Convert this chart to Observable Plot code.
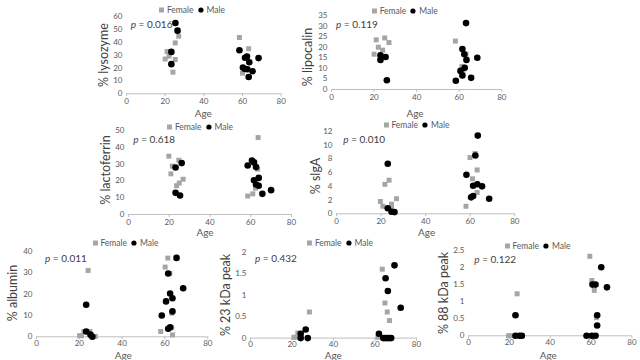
<!DOCTYPE html>
<html><head><meta charset="utf-8">
<script src="https://cdn.jsdelivr.net/npm/d3@7"></script>
<script src="https://cdn.jsdelivr.net/npm/@observablehq/plot@0.6"></script>
<style>
body{margin:0;background:#fff;}
#root{position:relative;width:640px;height:360px;overflow:hidden;font-family:Lato,"Open Sans",sans-serif;color:#404040;}
.c{position:absolute;white-space:nowrap;transform:translate(-50%,-50%);}
.l{position:absolute;white-space:nowrap;transform:translate(0,-50%);}
.leg{font-size:8.5px;color:#595959;display:flex;align-items:center;}
.leg svg{display:block;}
.pv{font-size:10px;color:#404040;}
.yl{font-size:12.5px;color:#404040;}
.ag{font-size:10px;color:#595959;}
</style></head><body><div id="root"></div>
<script>
// ---- data: [age, percent] ----
const panelLabels = ["% lysozyme","% lipocalin","% lactoferrin","% sIgA","% albumin","% 23 kDa peak","% 88 kDa peak"];
const pValues = ["0.016","0.119","0.618","0.010","0.011","0.432","0.122"];
const ageTicks = [0,20,40,60,80];
const yMax = [60,35,50,12,40,2,2.5];
const yStep = [10,5,10,2,10,0.5,0.5];

const lysozymeF = [[20,27],[21,32.8],[22,29.2],[25.2,26.6],[25.2,39.5],[27,44.7],[24,16.8],[58.4,43.7],[63.2,35],[60,16]];
const lysozymeM = [[25.3,55],[26.4,49],[23.2,32.5],[23.2,23],[58.4,33.8],[61.3,28],[62.3,29],[63.5,24.5],[68.3,27.7],[60.2,20.4],[61.2,19.3],[62.5,19],[65.2,17.5],[63.2,13]];
const lipocalinF = [[20,16.7],[21,23.5],[22,20],[24,18.6],[25,24.4],[27,22.2],[58.2,22.9],[61.3,10.9],[61.8,8.5],[63.2,16.7]];
const lipocalinM = [[23,16.2],[23,14],[25.4,15.4],[26,4.4],[63.2,31.4],[61.5,19.1],[62.4,16.7],[63.4,14],[68.5,15],[62.6,10.3],[60.6,8.8],[61.5,6.6],[58.4,4.1],[65.6,5.5]];
const lactoferrinF = [[19.8,34.7],[21.5,28.8],[20.8,24.2],[24.7,32.3],[23.6,17.1],[24.9,18.7],[26.8,21],[58.5,11],[61,12.3],[62.3,15.7],[63.4,27],[63.6,45.8]];
const lactoferrinM = [[23.1,28],[26.1,30.6],[23.1,12.9],[25.3,11.3],[58.5,29.2],[60.6,32.1],[61.6,31],[62.6,28.2],[61.6,20.4],[63.9,21.8],[62.6,17.9],[63.9,17.1],[70,14.5],[65.7,12.3]];
const sigaF = [[19.7,1.8],[20.8,1.1],[21.7,4.3],[23.6,4.9],[24.7,1.4],[24.7,1],[26.9,2.2],[58.1,1.1],[59.9,8.2],[61,5.1],[62.2,8.8],[63.1,6.4],[63.1,3.1]];
const sigaM = [[23,7.3],[23,0.8],[24.7,0.3],[26,0.25],[63.4,11.4],[62.3,8.5],[58.3,5.7],[61.3,4.1],[63.2,4.3],[65.3,4],[60.4,2.4],[61.3,2.6],[68.5,2.2]];
const albuminF = [[20.1,0.5],[21,0.5],[22.1,2.5],[24.1,31.1],[24.9,2.5],[25.2,0.9],[27.5,0.2],[58,2.5],[60.1,32.7],[61.3,36.9],[62.3,29.7],[63.2,11.1],[63.2,4.2],[63.5,0.9]];
const albuminM = [[23.2,15],[23.2,2.5],[25.2,1],[26.1,0],[65.4,37],[61.5,29.7],[68.5,22.8],[62.4,20.3],[63.5,18.1],[60.5,16.6],[63.5,11.9],[58.5,10],[61.5,3.75],[62.4,4.5]];
const kda23F = [[20.9,0.02],[22,0.02],[22.8,0.12],[23.6,0.02],[28.4,0.61],[61.4,0.02],[63.5,1.61],[64.8,0.82],[65.9,0.61],[67,0.41]];
const kda23M = [[24.2,0.1],[24.2,0],[26.6,0.2],[27.6,0],[61.9,0.1],[64,0],[65,0],[65.9,0],[66.8,0],[67.8,0],[65.1,1.4],[66.2,1.1],[69.4,1.7],[72.4,0.71]];
const kda88F = [[19.6,0],[20.7,0],[23.8,1.23],[25.8,0],[26.4,0],[59.4,2.33],[60.4,1.62],[61.6,1.33],[62.7,0.53],[59.9,0],[61.2,0]];
const kda88M = [[23,0.6],[23,0],[25,0],[26.1,0],[57.8,0],[60.4,0],[62.2,0],[60.7,1.5],[62.2,1.5],[65,2.01],[67.8,1.42],[63,0.6],[63,0.3]];

const femaleSets = [lysozymeF, lipocalinF, lactoferrinF, sigaF, albuminF, kda23F, kda88F];
const maleSets = [lysozymeM, lipocalinM, lactoferrinM, sigaM, albuminM, kda23M, kda88M];

// ---- layout (pixel positions of each panel) ----
const layout = [
  {x0:126, x1:280.7, yt:16, yb:93.3, leg:[192,10.3], p:[130.7,24], yl:[103,55], ag:[203.3,112.5], pad:2},
  {x0:331, x1:501.3, yt:15.3, yb:89.3, leg:[404.7,11], p:[336,24], yl:[306.7,57], ag:[415,112.5], pad:2},
  {x0:127.7, x1:290.7, yt:129.7, yb:213.7, leg:[200,127.3], p:[133.3,139.3], yl:[105,170], ag:[205,232], pad:2},
  {x0:336, x1:514.3, yt:130.7, yb:213, leg:[416.5,124.7], p:[343.3,139.3], yl:[315,176], ag:[426.7,231.5], pad:1.5},
  {x0:36, x1:207.3, yt:250.7, yb:336, leg:[125.5,242.7], p:[45,257.7], yl:[11.7,293], ag:[123.3,354.5], pad:1},
  {x0:250, x1:416, yt:251.7, yb:337.3, leg:[340,243.3], p:[255,257.7], yl:[225,295], ag:[333.3,355], pad:0.5},
  {x0:468.3, x1:631.7, yt:250, yb:335.3, leg:[537.5,246], p:[474.3,259.3], yl:[443.3,293], ag:[548.3,354.5], pad:1}
];

const root = document.getElementById("root");
const ML=30, MR=10, MT=10, MB=25;

layout.forEach((L,i)=>{
  const w = L.x1-L.x0, h = L.yb-L.yt;
  const yt = d3.range(0, yMax[i]+1e-9, yStep[i]);
  const svg = Plot.plot({
    width: w+ML+MR, height: h+MT+MB,
    marginLeft: ML, marginRight: MR, marginTop: MT, marginBottom: MB,
    style:{background:"transparent", fontFamily:"Lato, sans-serif", fontSize:"8px", color:"#595959", overflow:"visible"},
    x:{domain:[0,80], label:null},
    y:{domain:[0,yMax[i]], label:null},
    marks:[
      Plot.axisX({ticks:ageTicks, tickSize:3, tickPadding:L.pad, stroke:"#bfbfbf", fill:"#595959", label:null}),
      Plot.axisY({ticks:yt, tickSize:0, tickPadding:4, fill:"#595959", label:null, tickFormat:d=>String(d)}),
      Plot.ruleY([0],{stroke:"#bfbfbf"}),
      Plot.dot(femaleSets[i], {x:d=>d[0], y:d=>d[1], symbol:"square", r:2.8, fill:"#a5a5a5", stroke:"none"}),
      Plot.dot(maleSets[i], {x:d=>d[0], y:d=>d[1], r:3.3, fill:"#000", stroke:"none"})
    ]
  });
  svg.style.position="absolute";
  svg.style.left=(L.x0-ML)+"px";
  svg.style.top=(L.yt-MT)+"px";
  root.append(svg);

  const add = (cls, pos, html, extra="") => {
    const d = document.createElement("div");
    d.className = cls;
    d.style.left = pos[0]+"px"; d.style.top = pos[1]+"px";
    if (extra) d.style.transform = extra;
    d.innerHTML = html;
    root.append(d);
  };
  add("c leg", L.leg,
    '<svg width="8" height="6"><rect x="0" y="0.5" width="5" height="5" fill="#a5a5a5"/></svg>Female' +
    '<svg width="12" height="6"><circle cx="7" cy="3" r="2.6" fill="#000"/></svg><span style="margin-left:1px">Male</span>');
  add("l pv", L.p, '<i>p</i> = ' + pValues[i]);
  add("c yl", L.yl, panelLabels[i], "translate(-50%,-50%) rotate(-90deg)");
  add("c ag", L.ag, "Age");
});
</script></body></html>
